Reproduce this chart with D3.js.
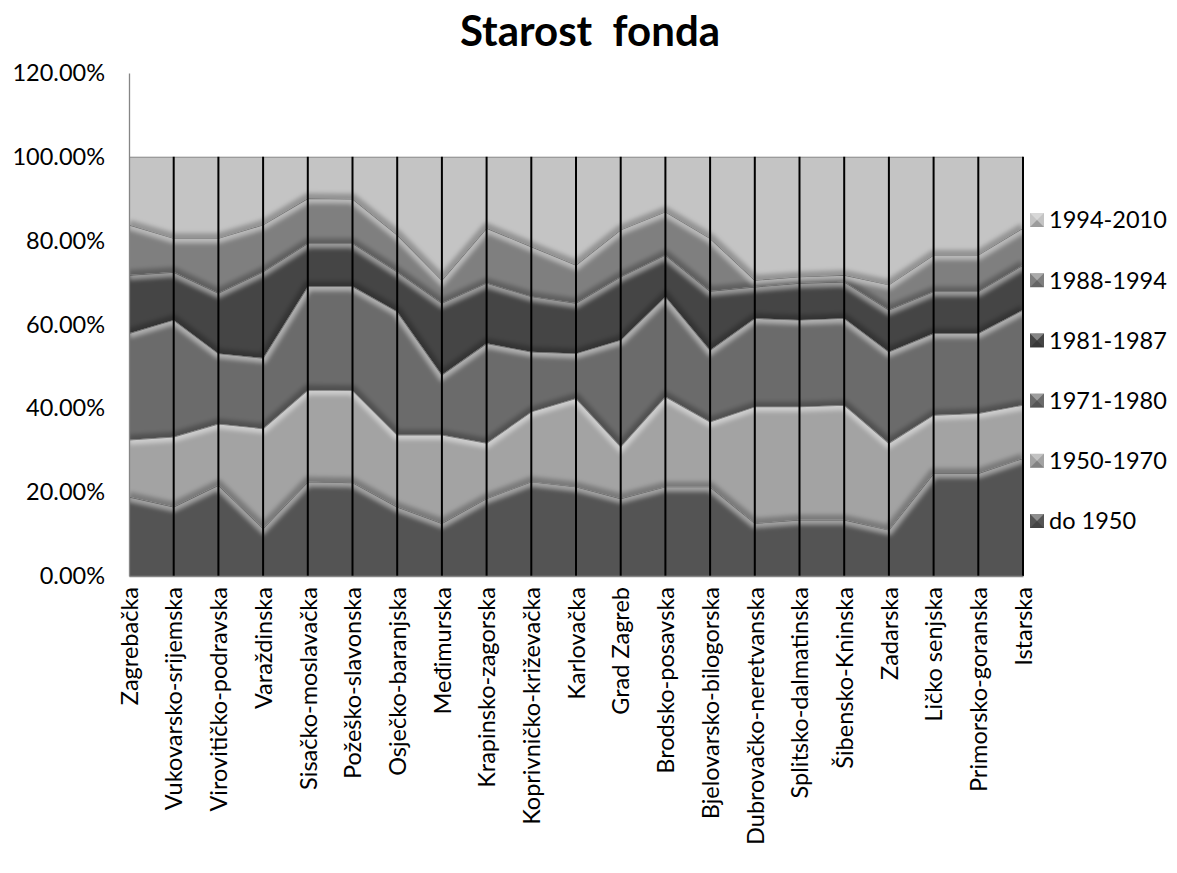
<!DOCTYPE html>
<html>
<head>
<meta charset="utf-8">
<script src="https://cdn.jsdelivr.net/npm/d3@7"></script>
<style>
  body { margin: 0; background: #fff; }
  svg text { font-family: Lato, "Open Sans", sans-serif; fill: #000; }
</style>
</head>
<body>
<div id="chart"></div>
<script>
// županije, 100% složeno po razdobljima izgradnje
const categories = ["Zagrebačka", "Vukovarsko-srijemska", "Virovitičko-podravska", "Varaždinska",
  "Sisačko-moslavačka", "Požeško-slavonska", "Osječko-baranjska", "Međimurska", "Krapinsko-zagorska",
  "Koprivničko-križevačka", "Karlovačka", "Grad Zagreb", "Brodsko-posavska", "Bjelovarsko-bilogorska",
  "Dubrovačko-neretvanska", "Splitsko-dalmatinska", "Šibensko-Kninska", "Zadarska", "Ličko senjska",
  "Primorsko-goranska", "Istarska"];

const seriesNames = ["do 1950", "1950-1970", "1971-1980", "1981-1987", "1988-1994", "1994-2010"];

const do1950    = [18.9, 16.5, 21.7, 11.4, 22.5, 22.3, 16.5, 12.6, 18.5, 22.5, 21.3, 18.5, 21.3, 21.3, 12.6, 13.4, 13.4, 11.0, 24.5, 24.5, 28.1];
const s1950_1970 = [13.6, 16.7, 14.6, 23.8, 21.9, 22.0, 17.2, 21.1, 13.2, 16.7, 21.1, 12.4, 21.5, 15.5, 27.8, 27.0, 27.4, 20.7, 13.9, 14.3, 12.7];
const s1971_1980 = [25.4, 27.9, 16.8, 16.8, 24.7, 24.8, 29.4, 14.3, 23.8, 14.3, 10.7, 25.4, 23.9, 17.1, 21.1, 20.7, 20.7, 21.8, 19.5, 19.1, 22.7];
const s1981_1987 = [13.9, 11.4, 14.4, 20.6, 10.3, 10.3, 9.5, 17.1, 14.4, 13.2, 12.0, 15.1, 9.9, 14.1, 7.5, 8.8, 8.7, 10.0, 10.0, 10.0, 10.7];
const s1988_1994 = [12.0, 8.1, 13.1, 11.2, 10.7, 10.6, 8.8, 5.5, 13.1, 11.9, 9.1, 11.2, 10.3, 12.6, 1.6, 1.5, 1.6, 6.0, 8.7, 8.7, 8.8];
const s1994_2010 = [16.2, 19.4, 19.4, 16.2, 9.9, 10.0, 18.6, 29.4, 17.0, 21.4, 25.8, 17.4, 13.1, 19.4, 29.4, 28.6, 28.2, 30.5, 23.4, 23.4, 17.0];

const yTicks = [0, 0.2, 0.4, 0.6, 0.8, 1.0, 1.2];
const colors = ["#545454", "#a3a3a3", "#6b6b6b", "#454545", "#7f7f7f", "#c4c4c4"];

const seriesValues = [do1950, s1950_1970, s1971_1980, s1981_1987, s1988_1994, s1994_2010];
const rows = categories.map((c, i) => {
  const r = { cat: c };
  seriesNames.forEach((s, j) => r[s] = seriesValues[j][i]);
  return r;
});

const W = 1177, H = 873;
const plotL = 129, plotR = 1023, plotT = 73, plotB = 576;
const fs = 23.5;

const svg = d3.select("#chart").append("svg")
  .attr("width", W).attr("height", H);

const defs = svg.append("defs");
defs.append("filter").attr("id", "soft")
  .attr("x", "-5%").attr("y", "-20%").attr("width", "110%").attr("height", "140%")
  .append("feGaussianBlur").attr("stdDeviation", 2.2);

const x = d3.scalePoint().domain(categories).range([plotL, plotR]);
const y = d3.scaleLinear().domain([0, 1.2]).range([plotB, plotT]);

const stack = d3.stack().keys(seriesNames).offset(d3.stackOffsetExpand);
const layers = stack(rows);

const area = d3.area()
  .x(d => x(d.data.cat))
  .y0(d => y(d[0]))
  .y1(d => y(d[1]));
const topLine = d3.line().x(d => x(d.data.cat)).y(d => y(d[1]));
const botLine = d3.line().x(d => x(d.data.cat)).y(d => y(d[0]));

// clip per layer for the bevel shading
layers.forEach((l, i) => {
  defs.append("clipPath").attr("id", "clip" + i)
    .append("path").attr("d", area(l));
});

const g = svg.append("g");

g.selectAll(".layer").data(layers).enter().append("path")
  .attr("class", "layer")
  .attr("d", area)
  .attr("fill", (d, i) => colors[i]);

// bevel: highlight under top edge, shadow above bottom edge
layers.forEach((l, i) => {
  const cg = g.append("g").attr("clip-path", `url(#clip${i})`);
  cg.append("path").attr("d", botLine(l))
    .attr("fill", "none").attr("stroke", "#000").attr("stroke-opacity", 0.25)
    .attr("stroke-width", 10).attr("filter", "url(#soft)");
  cg.append("path").attr("d", topLine(l))
    .attr("fill", "none").attr("stroke", "#fff").attr("stroke-opacity", 0.45)
    .attr("stroke-width", 10).attr("filter", "url(#soft)");
  cg.append("path").attr("d", topLine(l))
    .attr("fill", "none").attr("stroke", "#222").attr("stroke-opacity", 0.5)
    .attr("stroke-width", 1.3);
});

// drop lines
g.selectAll(".drop").data(categories.slice(1)).enter().append("line")
  .attr("class", "drop")
  .attr("x1", d => x(d)).attr("x2", d => x(d))
  .attr("y1", y(1)).attr("y2", y(0))
  .attr("stroke", "#000").attr("stroke-width", 2);

// y axis
const yAxis = svg.append("g")
  .attr("transform", `translate(${plotL},0)`)
  .call(d3.axisLeft(y).tickValues(yTicks).tickFormat(d3.format(".2%")).tickSize(0).tickPadding(24));
yAxis.select(".domain").attr("stroke", "#868686").attr("stroke-width", 1.3);
yAxis.selectAll("text").attr("font-size", fs).style("font-family", "Lato, sans-serif");

// x axis
const xAxis = svg.append("g")
  .attr("transform", `translate(0,${plotB})`)
  .call(d3.axisBottom(x).tickSize(0));
xAxis.select(".domain").attr("stroke", "#868686").attr("stroke-width", 1.3);
xAxis.selectAll("text")
  .attr("transform", "rotate(-90)")
  .attr("x", -11).attr("y", 0).attr("dy", "0.35em")
  .style("text-anchor", "end")
  .attr("font-size", fs).style("font-family", "Lato, sans-serif");

// title
svg.append("text")
  .attr("x", 590).attr("y", 46)
  .attr("text-anchor", "middle")
  .attr("font-size", 42).attr("font-weight", "bold")
  .style("white-space", "pre")
  .text("Starost  fonda");

// legend, top entry = last series
const legend = svg.append("g");
const legendItems = seriesNames.slice().reverse();
legendItems.forEach((name, k) => {
  const idx = seriesNames.indexOf(name);
  const cy = 220 + k * 60.2;
  const it = legend.append("g").attr("transform", `translate(1030,${cy - 7})`);
  it.append("rect").attr("width", 14).attr("height", 14).attr("fill", colors[idx]);
  it.append("path").attr("d", "M0,0L14,0L7,7Z").attr("fill", "#fff").attr("opacity", 0.35);
  it.append("path").attr("d", "M0,14L14,14L7,7Z").attr("fill", "#000").attr("opacity", 0.2);
  legend.append("text")
    .attr("x", 1049).attr("y", cy).attr("dy", "0.36em")
    .attr("font-size", fs)
    .text(name);
});
</script>
</body>
</html>
